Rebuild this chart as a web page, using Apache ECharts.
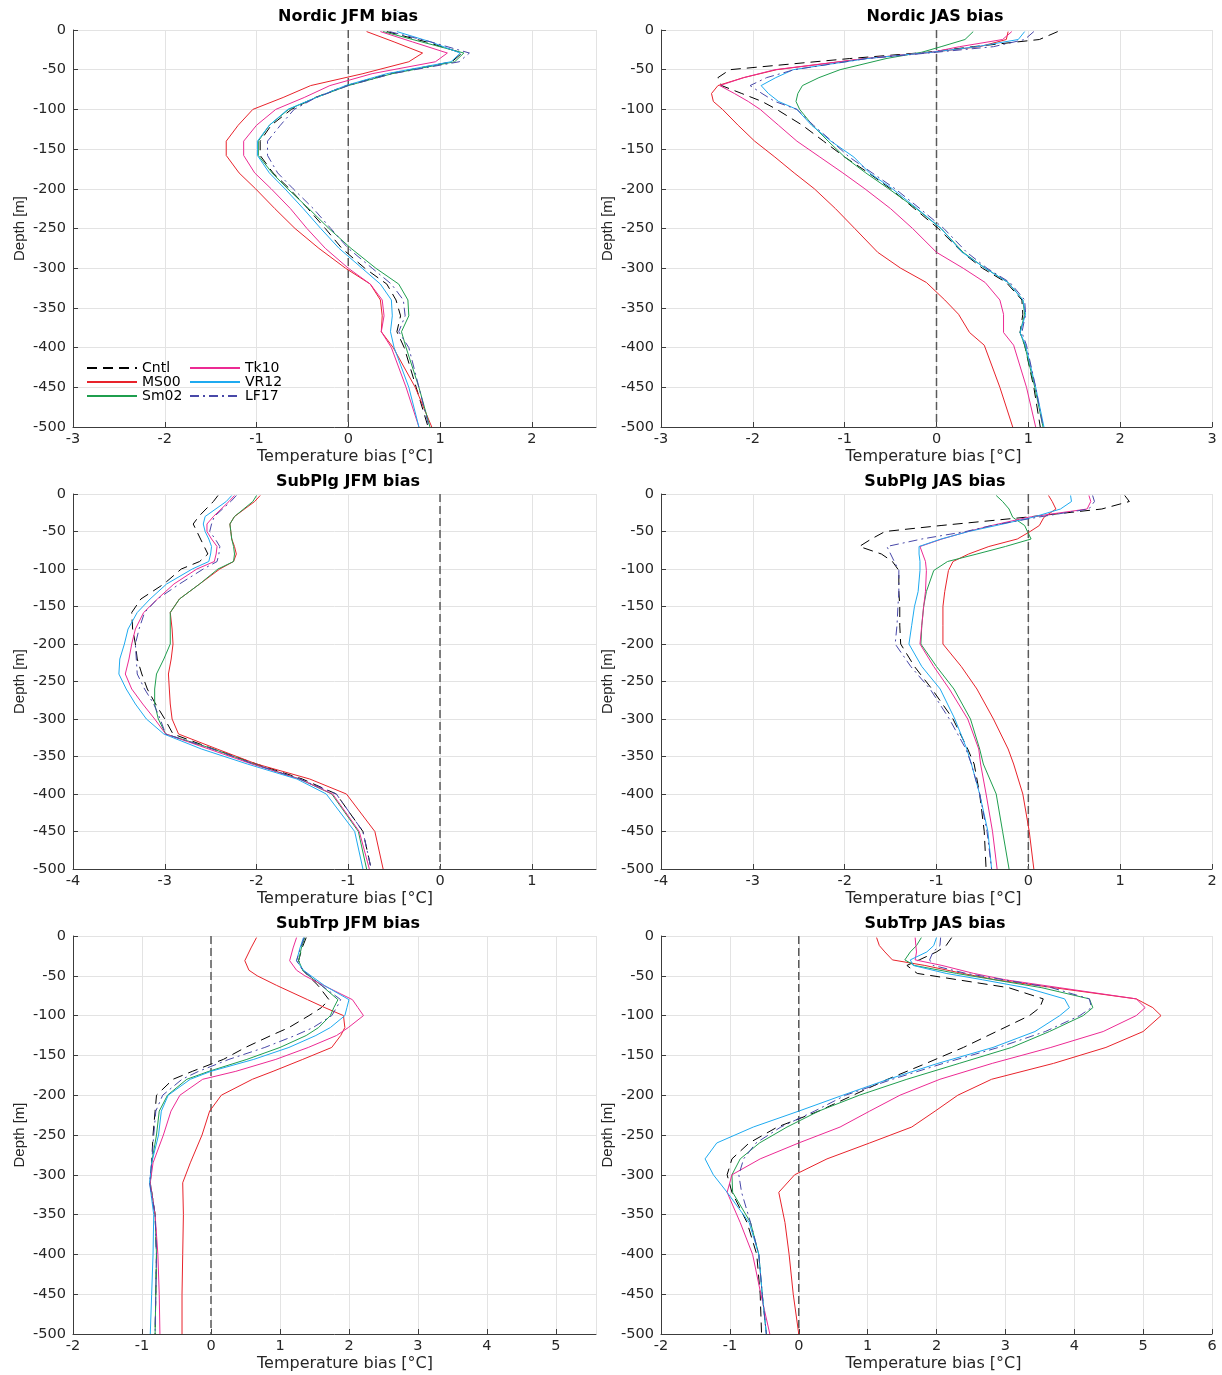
<!DOCTYPE html>
<html><head><meta charset="utf-8">
<script src="https://cdn.jsdelivr.net/npm/echarts@6/dist/echarts.min.js"></script>
<style>html,body{margin:0;padding:0;background:#fff}#chart{width:1222px;height:1375px}</style>
</head><body><div id="chart"></div>
<script>
// ---------- DATA ----------
const seriesNames = ['Cntl', 'MS00', 'Sm02', 'Tk10', 'VR12', 'LF17'];
const panelTitles = ['Nordic JFM bias', 'Nordic JAS bias', 'SubPlg JFM bias', 'SubPlg JAS bias', 'SubTrp JFM bias', 'SubTrp JAS bias'];
const depthTicks = [0, -50, -100, -150, -200, -250, -300, -350, -400, -450, -500];

// Nordic JFM
const depthNordicJFM = [-2, -15, -29, -40, -55, -70, -85, -100, -120, -140, -158, -180, -200, -225, -250, -275, -300, -320, -340, -360, -380, -400, -450, -500];
const nordicJFM_Cntl = [0.42, 0.85, 1.24, 1.13, 0.45, -0.02, -0.36, -0.62, -0.84, -0.96, -0.96, -0.82, -0.64, -0.44, -0.25, -0.07, 0.18, 0.42, 0.52, 0.57, 0.53, 0.61, 0.74, 0.87];
const nordicJFM_MS00 = [0.2, 0.5, 0.81, 0.66, 0.16, -0.41, -0.71, -1.04, -1.2, -1.33, -1.33, -1.19, -1.01, -0.8, -0.58, -0.32, -0.03, 0.24, 0.35, 0.37, 0.36, 0.49, 0.73, 0.91];
const nordicJFM_Sm02 = [0.38, 0.8, 1.26, 1.16, 0.48, 0.0, -0.35, -0.65, -0.86, -0.98, -0.98, -0.83, -0.66, -0.43, -0.21, 0.03, 0.30, 0.55, 0.65, 0.66, 0.58, 0.63, 0.77, 0.89];
const nordicJFM_Tk10 = [0.35, 0.7, 1.08, 0.95, 0.26, -0.2, -0.48, -0.79, -1.0, -1.14, -1.14, -1.02, -0.84, -0.63, -0.45, -0.25, 0.0, 0.24, 0.37, 0.39, 0.36, 0.47, 0.63, 0.77];
const nordicJFM_VR12 = [0.53, 0.9, 1.22, 1.12, 0.42, -0.03, -0.35, -0.66, -0.86, -0.99, -0.99, -0.86, -0.69, -0.49, -0.3, -0.1, 0.15, 0.35, 0.47, 0.48, 0.46, 0.5, 0.66, 0.77];
const nordicJFM_LF17 = [0.45, 0.9, 1.32, 1.21, 0.48, 0.0, -0.35, -0.59, -0.74, -0.88, -0.88, -0.77, -0.6, -0.38, -0.19, 0.0, 0.26, 0.47, 0.6, 0.62, 0.55, 0.66, 0.77, 0.88];

// Nordic JAS
const depthNordicJAS = [-2, -12, -21, -28, -36, -50, -60, -70, -80, -90, -100, -120, -140, -160, -180, -200, -225, -250, -280, -300, -318, -340, -358, -381, -397, -450, -500];
const nordicJAS_Cntl = [1.32, 1.12, 0.4, -0.1, -0.95, -2.25, -2.38, -2.34, -2.12, -1.9, -1.74, -1.46, -1.23, -1.0, -0.74, -0.5, -0.24, 0.02, 0.28, 0.5, 0.76, 0.93, 0.94, 0.91, 0.96, 1.06, 1.13];
const nordicJAS_MS00 = [0.78, 0.76, 0.47, -0.05, -0.78, -1.74, -2.1, -2.38, -2.45, -2.43, -2.33, -2.16, -1.98, -1.76, -1.55, -1.33, -1.1, -0.89, -0.64, -0.39, -0.11, 0.09, 0.24, 0.36, 0.52, 0.69, 0.83];
const nordicJAS_Sm02 = [0.4, 0.31, 0.05, -0.16, -0.55, -1.05, -1.28, -1.46, -1.51, -1.53, -1.49, -1.35, -1.18, -1.0, -0.77, -0.52, -0.22, 0.05, 0.29, 0.53, 0.78, 0.94, 0.96, 0.91, 0.96, 1.07, 1.16];
const nordicJAS_Tk10 = [0.82, 0.72, 0.25, -0.05, -0.78, -1.76, -2.1, -2.36, -2.2, -2.05, -1.92, -1.72, -1.52, -1.27, -1.02, -0.78, -0.5, -0.26, 0.0, 0.29, 0.53, 0.69, 0.73, 0.73, 0.84, 0.98, 1.08];
const nordicJAS_VR12 = [0.96, 0.89, 0.44, -0.05, -0.76, -1.56, -1.75, -1.91, -1.83, -1.72, -1.52, -1.36, -1.15, -0.9, -0.73, -0.48, -0.21, 0.05, 0.28, 0.53, 0.78, 0.94, 0.97, 0.91, 0.97, 1.08, 1.17];
const nordicJAS_LF17 = [1.06, 0.96, 0.62, 0.0, -0.76, -1.55, -1.85, -2.03, -1.9, -1.76, -1.52, -1.34, -1.14, -0.95, -0.7, -0.45, -0.18, 0.08, 0.33, 0.55, 0.8, 0.96, 0.97, 0.93, 0.98, 1.08, 1.16];

// SubPlg JFM
const depthSubPlgJFM = [-2, -10, -30, -40, -50, -60, -70, -80, -90, -100, -120, -140, -158, -180, -200, -220, -240, -260, -280, -300, -320, -340, -360, -380, -400, -450, -500];
const subPlgJFM_Cntl = [-2.42, -2.47, -2.63, -2.69, -2.65, -2.61, -2.57, -2.53, -2.62, -2.82, -3.01, -3.26, -3.36, -3.35, -3.32, -3.3, -3.25, -3.19, -3.1, -3.0, -2.91, -2.47, -2.0, -1.5, -1.13, -0.84, -0.75];
const subPlgJFM_MS00 = [-1.96, -2.02, -2.24, -2.29, -2.28, -2.27, -2.24, -2.22, -2.25, -2.4, -2.62, -2.84, -2.94, -2.92, -2.91, -2.93, -2.96, -2.95, -2.94, -2.92, -2.85, -2.43, -2.0, -1.42, -1.02, -0.71, -0.62];
const subPlgJFM_Sm02 = [-2.0, -2.04, -2.24, -2.29, -2.28, -2.27, -2.25, -2.24, -2.25, -2.42, -2.62, -2.84, -2.94, -2.94, -2.94, -3.01, -3.09, -3.11, -3.11, -3.07, -2.99, -2.47, -2.03, -1.53, -1.18, -0.89, -0.8];
const subPlgJFM_Tk10 = [-2.24, -2.3, -2.47, -2.54, -2.54, -2.49, -2.43, -2.44, -2.46, -2.65, -2.9, -3.08, -3.23, -3.32, -3.36, -3.39, -3.43, -3.36, -3.24, -3.11, -2.99, -2.52, -2.05, -1.53, -1.17, -0.88, -0.77];
const subPlgJFM_VR12 = [-2.27, -2.33, -2.56, -2.58, -2.56, -2.52, -2.49, -2.5, -2.52, -2.7, -2.98, -3.16, -3.3, -3.4, -3.44, -3.49, -3.5, -3.42, -3.32, -3.2, -3.01, -2.6, -2.1, -1.56, -1.24, -0.93, -0.84];
const subPlgJFM_LF17 = [-2.22, -2.28, -2.46, -2.49, -2.51, -2.45, -2.4, -2.41, -2.43, -2.58, -2.84, -3.08, -3.22, -3.28, -3.32, -3.31, -3.3, -3.22, -3.12, -3.05, -2.99, -2.48, -2.03, -1.53, -1.13, -0.84, -0.75];

// SubPlg JAS
const depthSubPlgJAS = [-2, -10, -20, -31, -42, -50, -60, -70, -80, -90, -102, -130, -150, -175, -200, -230, -260, -300, -340, -360, -400, -450, -500];
const subPlgJAS_Cntl = [1.05, 1.1, 0.8, -0.03, -0.95, -1.56, -1.71, -1.84, -1.6, -1.48, -1.41, -1.41, -1.4, -1.4, -1.39, -1.24, -1.05, -0.82, -0.66, -0.59, -0.53, -0.48, -0.46];
const subPlgJAS_MS00 = [0.22, 0.26, 0.3, 0.17, 0.12, 0.02, -0.12, -0.43, -0.65, -0.82, -0.87, -0.91, -0.93, -0.93, -0.93, -0.73, -0.56, -0.38, -0.22, -0.16, -0.06, 0.01, 0.06];
const subPlgJAS_Sm02 = [-0.35, -0.28, -0.21, -0.17, -0.04, -0.01, 0.03, -0.25, -0.56, -0.88, -1.03, -1.11, -1.14, -1.16, -1.17, -1.0, -0.81, -0.63, -0.53, -0.49, -0.35, -0.28, -0.21];
const subPlgJAS_Tk10 = [0.66, 0.68, 0.64, 0.0, -0.4, -0.66, -0.94, -1.18, -1.15, -1.12, -1.11, -1.12, -1.14, -1.16, -1.18, -1.03, -0.86, -0.66, -0.54, -0.52, -0.46, -0.39, -0.34];
const subPlgJAS_VR12 = [0.46, 0.47, 0.35, 0.05, -0.35, -0.65, -0.95, -1.19, -1.19, -1.18, -1.18, -1.2, -1.24, -1.27, -1.3, -1.16, -0.96, -0.8, -0.67, -0.62, -0.53, -0.44, -0.4];
const subPlgJAS_LF17 = [0.7, 0.72, 0.66, 0.1, -0.4, -0.68, -1.16, -1.54, -1.5, -1.46, -1.41, -1.41, -1.42, -1.43, -1.45, -1.28, -1.07, -0.86, -0.68, -0.62, -0.53, -0.45, -0.4];

// SubTrp JFM
const depthSubTrpJFM = [-2, -15, -31, -43, -50, -62, -80, -90, -100, -115, -125, -140, -155, -170, -180, -200, -220, -250, -285, -310, -350, -400, -450, -500];
const subTrpJFM_Cntl = [1.38, 1.32, 1.27, 1.33, 1.41, 1.55, 1.71, 1.6, 1.42, 1.13, 0.87, 0.5, 0.18, -0.27, -0.55, -0.79, -0.81, -0.84, -0.86, -0.88, -0.81, -0.79, -0.8, -0.81];
const subTrpJFM_MS00 = [0.66, 0.58, 0.49, 0.55, 0.67, 0.95, 1.4, 1.65, 1.92, 1.94, 1.88, 1.75, 1.33, 0.9, 0.6, 0.15, -0.02, -0.13, -0.3, -0.41, -0.4, -0.41, -0.42, -0.42];
const subTrpJFM_Sm02 = [1.36, 1.31, 1.27, 1.33, 1.42, 1.6, 1.84, 1.78, 1.73, 1.56, 1.38, 1.0, 0.52, -0.03, -0.35, -0.63, -0.75, -0.79, -0.86, -0.88, -0.81, -0.79, -0.8, -0.81];
const subTrpJFM_Tk10 = [1.24, 1.19, 1.14, 1.24, 1.36, 1.63, 2.05, 2.13, 2.21, 1.99, 1.82, 1.41, 0.94, 0.36, -0.12, -0.45, -0.58, -0.69, -0.84, -0.88, -0.81, -0.77, -0.75, -0.74];
const subTrpJFM_VR12 = [1.34, 1.29, 1.24, 1.34, 1.45, 1.64, 2.0, 1.97, 1.94, 1.73, 1.52, 1.13, 0.62, 0.0, -0.3, -0.62, -0.72, -0.76, -0.86, -0.89, -0.83, -0.84, -0.86, -0.88];
const subTrpJFM_LF17 = [1.35, 1.3, 1.24, 1.33, 1.43, 1.6, 1.88, 1.82, 1.75, 1.48, 1.22, 0.78, 0.26, -0.18, -0.42, -0.7, -0.8, -0.83, -0.86, -0.89, -0.81, -0.79, -0.8, -0.81];

// SubTrp JAS
const depthSubTrpJAS = [-2, -12, -20, -30, -37, -47, -55, -65, -79, -90, -100, -120, -140, -160, -180, -200, -220, -240, -260, -280, -300, -322, -360, -400, -450, -500];
const subTrpJAS_Cntl = [2.22, 2.14, 2.0, 1.75, 1.57, 1.72, 2.31, 3.05, 3.55, 3.5, 3.35, 2.87, 2.39, 1.85, 1.29, 0.79, 0.29, -0.31, -0.72, -0.97, -1.04, -0.97, -0.75, -0.61, -0.56, -0.54];
const subTrpJAS_MS00 = [1.13, 1.17, 1.25, 1.36, 1.83, 2.38, 2.86, 3.71, 4.9, 5.14, 5.26, 5.0, 4.46, 3.7, 2.8, 2.31, 1.98, 1.64, 1.03, 0.41, -0.06, -0.29, -0.2, -0.14, -0.08, 0.0];
const subTrpJAS_Sm02 = [1.78, 1.71, 1.62, 1.54, 1.68, 2.29, 2.84, 3.53, 4.22, 4.27, 4.13, 3.64, 3.09, 2.33, 1.57, 0.88, 0.29, -0.17, -0.57, -0.85, -0.97, -0.96, -0.7, -0.58, -0.53, -0.47];
const subTrpJAS_Tk10 = [1.69, 1.7, 1.71, 1.69, 2.08, 2.54, 3.0, 3.79, 4.9, 5.03, 4.9, 4.42, 3.66, 2.81, 2.05, 1.47, 1.03, 0.6, 0.0, -0.56, -0.97, -1.04, -0.85, -0.67, -0.55, -0.42];
const subTrpJAS_VR12 = [2.0, 1.96, 1.86, 1.62, 1.66, 2.14, 2.67, 3.3, 3.86, 3.93, 3.79, 3.43, 2.82, 2.02, 1.3, 0.64, 0.0, -0.66, -1.19, -1.36, -1.24, -1.04, -0.72, -0.58, -0.53, -0.47];
const subTrpJAS_LF17 = [2.06, 2.05, 1.95, 1.9, 1.95, 2.43, 2.98, 3.67, 4.22, 4.25, 4.08, 3.58, 2.9, 2.1, 1.36, 0.68, 0.23, -0.26, -0.62, -0.8, -0.87, -0.83, -0.7, -0.58, -0.53, -0.47];

// x-axis ranges (tick labels)
const xMins = [-3, -3, -4, -4, -2, -2];
const xMaxs = [2.7, 3, 1.7, 2, 5.58, 6];

// ---------- STYLE / LAYOUT ----------
const panelDepths = [depthNordicJFM, depthNordicJAS, depthSubPlgJFM, depthSubPlgJAS, depthSubTrpJFM, depthSubTrpJAS];
const panelValues = [
  [nordicJFM_Cntl, nordicJFM_MS00, nordicJFM_Sm02, nordicJFM_Tk10, nordicJFM_VR12, nordicJFM_LF17],
  [nordicJAS_Cntl, nordicJAS_MS00, nordicJAS_Sm02, nordicJAS_Tk10, nordicJAS_VR12, nordicJAS_LF17],
  [subPlgJFM_Cntl, subPlgJFM_MS00, subPlgJFM_Sm02, subPlgJFM_Tk10, subPlgJFM_VR12, subPlgJFM_LF17],
  [subPlgJAS_Cntl, subPlgJAS_MS00, subPlgJAS_Sm02, subPlgJAS_Tk10, subPlgJAS_VR12, subPlgJAS_LF17],
  [subTrpJFM_Cntl, subTrpJFM_MS00, subTrpJFM_Sm02, subTrpJFM_Tk10, subTrpJFM_VR12, subTrpJFM_LF17],
  [subTrpJAS_Cntl, subTrpJAS_MS00, subTrpJAS_Sm02, subTrpJAS_Tk10, subTrpJAS_VR12, subTrpJAS_LF17]
];
const colors = ['#000000', '#e8232b', '#1f9e4e', '#ec2a93', '#1eaaf0', '#4848a8'];
const dashes = [[10, 6], 'solid', 'solid', 'solid', 'solid', [9, 4, 2, 4]];

const grids = [
  {left: 73, top: 30, width: 523, height: 397},
  {left: 661, top: 30, width: 551, height: 397},
  {left: 73, top: 494, width: 523, height: 375},
  {left: 661, top: 494, width: 551, height: 375},
  {left: 73, top: 936, width: 523, height: 398},
  {left: 661, top: 936, width: 551, height: 398}
];
const titleCx = [348, 935, 348, 935, 348, 935];
const titleTop = [9, 9, 474, 474, 916, 916];

const AX = '#3c3c3c';
const TXT = '#262626';
const GRIDC = '#e3e3e3';

const legendBase = {
  orient: 'vertical', top: 361, padding: 0, itemGap: 0,
  itemWidth: 50, itemHeight: 10,
  itemStyle: {opacity: 0, borderWidth: 0},
  textStyle: {fontSize: 14, fontFamily: 'DejaVu Sans', color: '#000', lineHeight: 14}
};

const option = {
  backgroundColor: '#ffffff',
  animation: false,
  title: panelTitles.map((t, i) => ({
    text: t, left: titleCx[i], top: titleTop[i], textAlign: 'center', padding: 0,
    textStyle: {fontSize: 16, fontWeight: 'bold', fontFamily: 'DejaVu Sans', color: '#000'}
  })),
  grid: grids,
  legend: [
    Object.assign({}, legendBase, {data: seriesNames.slice(0, 3), left: 86}),
    Object.assign({}, legendBase, {data: seriesNames.slice(3), left: 189})
  ],
  xAxis: grids.map((g, i) => ({
    type: 'value', gridIndex: i, min: xMins[i], max: xMaxs[i], interval: 1,
    axisLine: {show: true, onZero: false, lineStyle: {color: AX, width: 1}},
    axisTick: {show: true, inside: true, length: 5, lineStyle: {color: AX}},
    axisLabel: {color: TXT, fontSize: 14.5, fontFamily: 'DejaVu Sans', margin: 5, showMaxLabel: (i % 2 === 1)},
    splitLine: {show: true, lineStyle: {color: GRIDC, width: 1}},
    name: 'Temperature bias [°C]', nameLocation: 'middle', nameGap: 22,
    nameTextStyle: {fontSize: 16, color: TXT, fontFamily: 'DejaVu Sans', padding: (i % 2 === 0) ? [0, 0, 0, 21] : [0, 6, 0, 0]}
  })),
  yAxis: grids.map((g, i) => ({
    type: 'value', gridIndex: i, min: depthTicks[depthTicks.length - 1], max: depthTicks[0], interval: 50,
    axisLine: {show: true, onZero: false, lineStyle: {color: AX, width: 1}},
    axisTick: {show: true, inside: true, length: 5, lineStyle: {color: AX}},
    axisLabel: {color: TXT, fontSize: 14.5, fontFamily: 'DejaVu Sans', margin: 7},
    splitLine: {show: true, lineStyle: {color: GRIDC, width: 1}},
    name: 'Depth [m]', nameLocation: 'middle', nameGap: 46, nameRotate: 90,
    nameTextStyle: {fontSize: 15, color: TXT, fontFamily: 'Liberation Sans'}
  })),
  series: []
};

for (let p = 0; p < 6; p++) {
  option.series.push({
    type: 'line', name: 'zero', xAxisIndex: p, yAxisIndex: p, silent: true, symbol: 'none',
    data: [[0, depthTicks[0]], [0, depthTicks[depthTicks.length - 1]]],
    lineStyle: {color: '#5a5a5a', width: 1.5, type: [8, 4]}, z: 2
  });
  const depth = panelDepths[p];
  for (let s = 0; s < 6; s++) {
    const vals = panelValues[p][s];
    option.series.push({
      type: 'line', name: seriesNames[s], xAxisIndex: p, yAxisIndex: p, symbol: 'none',
      data: vals.map((v, k) => [v, depth[k]]),
      lineStyle: {color: colors[s], width: 1, type: dashes[s]},
      itemStyle: {color: colors[s]}, z: 3 + s
    });
  }
}

const chart = echarts.init(document.getElementById('chart'), null, {renderer: 'canvas'});
chart.setOption(option);
</script></body></html>
